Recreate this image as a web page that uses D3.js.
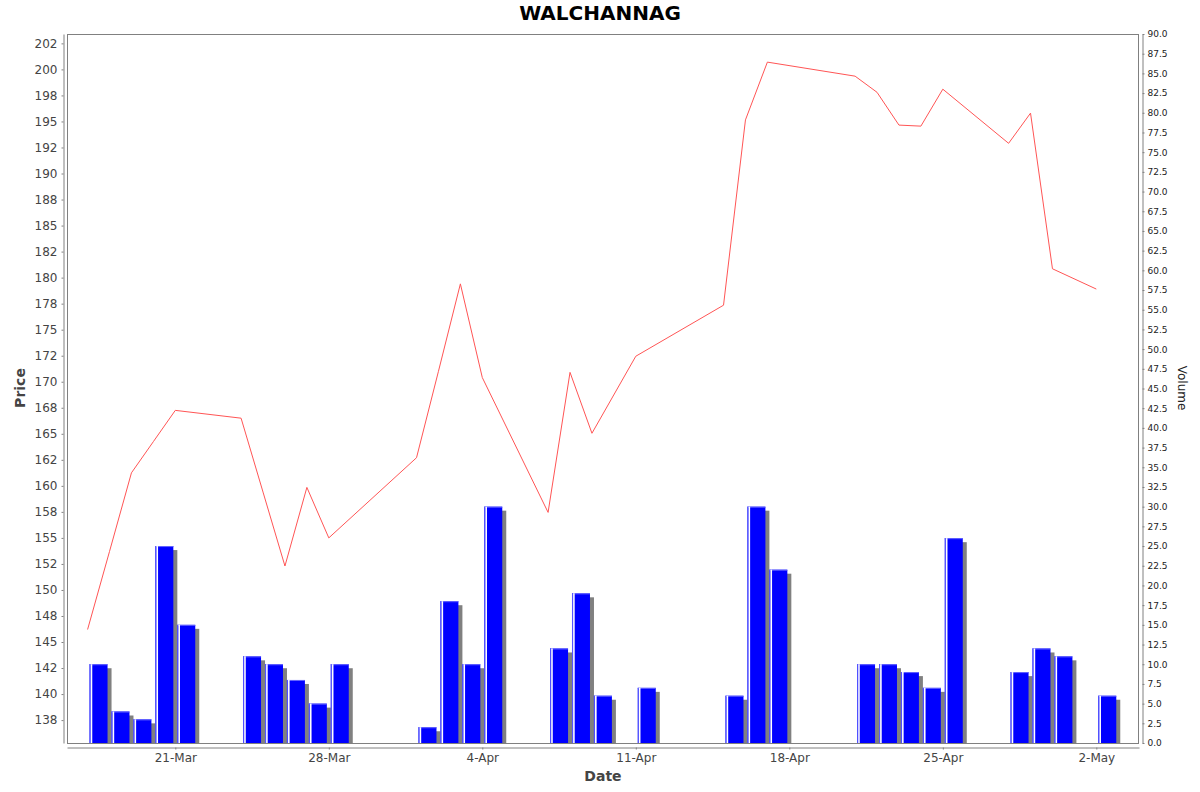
<!DOCTYPE html>
<html><head><meta charset="utf-8">
<script src="https://cdn.jsdelivr.net/npm/d3@7"></script>
<style>
body{margin:0;background:#fff}
svg{display:block;font-family:"DejaVu Sans",sans-serif}
</style>
</head><body>
<svg id="c" width="1200" height="792"></svg>
<script>
// ---- data ----
const title = "WALCHANNAG";
const dates = ["2025-03-17","2025-03-18","2025-03-19","2025-03-20","2025-03-21",
  "2025-03-24","2025-03-25","2025-03-26","2025-03-27","2025-03-28",
  "2025-04-01","2025-04-02","2025-04-03","2025-04-04",
  "2025-04-07","2025-04-08","2025-04-09","2025-04-11",
  "2025-04-15","2025-04-16","2025-04-17",
  "2025-04-21","2025-04-22","2025-04-23","2025-04-24","2025-04-25",
  "2025-04-28","2025-04-29","2025-04-30","2025-05-02"];
const prices = [146.2,153.7,161.25,164.25,167.25,
  166.5,159.4,152.3,159.85,155.0,
  162.7,171.0,179.4,170.4,
  157.45,170.9,165.05,172.45,
  177.35,195.15,200.7,
  199.35,197.8,194.65,194.55,198.1,
  192.9,195.8,180.85,178.9];
const volumes = [10,4,3,25,15,
  11,10,8,5,10,
  2,18,10,30,
  12,19,6,7,
  6,30,22,
  10,10,9,7,26,
  9,12,11,6];
const dateTicks = ["2025-03-21","2025-03-28","2025-04-04","2025-04-11","2025-04-18","2025-04-25","2025-05-02"];
const priceTicks = [137.5,140,142.5,145,147.5,150,152.5,155,157.5,160,162.5,165,167.5,170,172.5,175,177.5,180,182.5,185,187.5,190,192.5,195,197.5,200,202.5];
const priceTickLabels = ["138","140","142","145","148","150","152","155","158","160","162","165","168","170","172","175","178","180","182","185","188","190","192","195","198","200","202"];
const volumeTicks = d3.range(0, 90.0001, 2.5);

// ---- layout ----
const L = 67, R = 1139, T = 34, B = 743;
const parse = d3.utcParse("%Y-%m-%d");
const data = dates.map((d,i)=>({date:parse(d), price:prices[i], vol:volumes[i]}));

const x = d3.scaleUtc()
  .domain([d3.utcMinute.offset(parse("2025-03-16"), 88), d3.utcMinute.offset(parse("2025-05-03"), 22*60+43)])
  .range([L, R]);
const yP = d3.scaleLinear().domain([135.3, 203.4]).range([B, T]);
const yV = d3.scaleLinear().domain([0, 90]).range([B, T]);

const svg = d3.select("#c");
svg.append("rect").attr("width",1200).attr("height",792).attr("fill","#fff");

svg.append("defs").append("clipPath").attr("id","clip")
  .append("rect").attr("x",L).attr("y",T).attr("width",R-L).attr("height",B-T);

const plot = svg.append("g").attr("clip-path","url(#clip)");

// bars
const bars = plot.append("g");
data.forEach(d=>{
  const x0 = x(d.date), x1 = x(d3.utcDay.offset(d.date,1));
  const dw = x1 - x0;
  const bx = x0 + 0.09*dw, bw = 0.82*dw;
  const top = yV(d.vol);
  bars.append("rect").attr("x",bx+4).attr("y",top+4).attr("width",bw).attr("height",Math.max(0,B-top-4))
    .attr("fill","#808080");
  bars.append("rect").attr("x",bx).attr("y",top).attr("width",bw).attr("height",B-top)
    .attr("fill","#0000ff");
  bars.append("line").attr("x1",bx).attr("x2",bx+bw).attr("y1",top+0.5).attr("y2",top+0.5)
    .attr("stroke","#6666ff").attr("stroke-width",1);
  bars.append("line").attr("x1",bx+0.5).attr("x2",bx+0.5).attr("y1",top).attr("y2",B)
    .attr("stroke","#5555ff").attr("stroke-width",1);
  bars.append("line").attr("x1",bx+1.9).attr("x2",bx+1.9).attr("y1",top).attr("y2",B)
    .attr("stroke","#ffffff").attr("stroke-width",1.6);
});

// price line
plot.append("path").datum(data)
  .attr("d", d3.line().x(d=>x(d.date)).y(d=>yP(d.price)))
  .attr("fill","none").attr("stroke","#ff5555").attr("stroke-width",1);

// plot frame
svg.append("rect").attr("x",L+0.5).attr("y",T+0.5).attr("width",R-L-1).attr("height",B-T)
  .attr("fill","none").attr("stroke","#808080").attr("stroke-width",1);

// axes
function styleAxis(g, color, fs){
  g.select(".domain").attr("stroke","#808080");
  g.selectAll(".tick line").attr("stroke","#808080");
  g.selectAll(".tick text").attr("fill",color).attr("font-size",fs).attr("font-family","DejaVu Sans");
}
const ax = svg.append("g").attr("transform",`translate(0,${B+4.5})`)
  .call(d3.axisBottom(x).tickValues(dateTicks.map(parse)).tickFormat(d3.utcFormat("%-d-%b"))
    .tickSizeInner(2).tickSizeOuter(0).tickPadding(4));
styleAxis(ax, "#444", 12);

const ayl = svg.append("g").attr("transform",`translate(${L-3.5},0)`)
  .call(d3.axisLeft(yP).tickValues(priceTicks).tickFormat((d,i)=>priceTickLabels[i])
    .tickSizeInner(2).tickSizeOuter(0).tickPadding(4));
styleAxis(ayl, "#444", 12);

const ayr = svg.append("g").attr("transform",`translate(${R+3.5},0)`)
  .call(d3.axisRight(yV).tickValues(volumeTicks).tickFormat(d3.format(".1f"))
    .tickSizeInner(2).tickSizeOuter(0).tickPadding(3));
styleAxis(ayr, "#222", 9);

// labels
svg.append("text").attr("x",600).attr("y",20).attr("text-anchor","middle")
  .attr("font-size",20).attr("font-weight","bold").attr("fill","#000").text(title);
svg.append("text").attr("transform","translate(25,388) rotate(-90)").attr("text-anchor","middle")
  .attr("font-size",14).attr("font-weight","bold").attr("fill","#444").text("Price");
svg.append("text").attr("x",603).attr("y",781).attr("text-anchor","middle")
  .attr("font-size",14).attr("font-weight","bold").attr("fill","#444").text("Date");
svg.append("text").attr("transform","translate(1177.5,388) rotate(90)").attr("text-anchor","middle")
  .attr("font-size",12).attr("fill","#222").text("Volume");
</script>
</body></html>
